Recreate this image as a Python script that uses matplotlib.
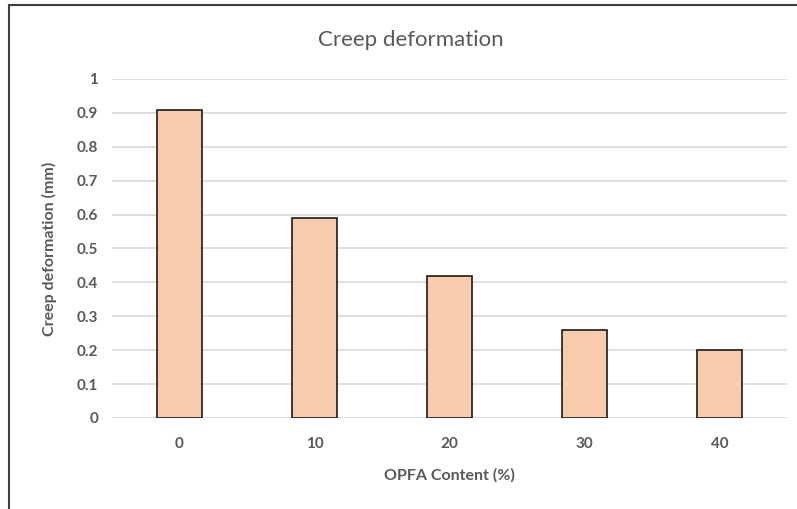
import matplotlib.pyplot as plt
from matplotlib.patches import Rectangle

# 資料
opfa = ['0', '10', '20', '30', '40']
creep = [0.91, 0.59, 0.42, 0.26, 0.20]
yticks = [0, 0.1, 0.2, 0.3, 0.4, 0.5, 0.6, 0.7, 0.8, 0.9, 1]
ylabels = ['0', '0.1', '0.2', '0.3', '0.4', '0.5', '0.6', '0.7', '0.8', '0.9', '1']

plt.rcParams['font.family'] = ['Lato', 'DejaVu Sans']
grey = '#595959'

fig = plt.figure(figsize=(7.97, 5.09), dpi=100)
ax = fig.add_axes([0.1405, 0.1788, 0.847, 0.666])

ax.bar(range(len(opfa)), creep, width=0.33, color='#F8CBAD',
       edgecolor='#1a1a1a', linewidth=1.2, zorder=3)

ax.set_xlim(-0.5, len(opfa) - 0.5)
ax.set_ylim(0, 1)
ax.set_yticks(yticks)
ax.set_yticklabels(ylabels)
ax.set_xticks(range(len(opfa)))
ax.set_xticklabels(opfa)
ax.yaxis.grid(True, color='#D9D9D9', linewidth=1.2, zorder=0)
ax.set_axisbelow(True)
for s in ax.spines.values():
    s.set_visible(False)
ax.tick_params(length=0, labelsize=11, labelcolor=grey, pad=10)
ax.tick_params(axis='x', pad=14)
for lab in ax.get_xticklabels() + ax.get_yticklabels():
    lab.set_fontweight('bold')

ax.set_xlabel('OPFA Content (%)', fontsize=11.5, fontweight='bold', color=grey, labelpad=12)
ax.set_ylabel('Creep deformation (mm)', fontsize=11.5, fontweight='bold', color=grey, labelpad=14)
fig.text(0.515, 0.922, 'Creep deformation', fontsize=16, color=grey, ha='center', va='center')

# 外框
fig.patches.append(Rectangle((9 / 797, -0.1), 1.2, 1 - 5 / 509 + 0.1, transform=fig.transFigure,
                             fill=False, edgecolor='#404040', linewidth=1.5))

fig.savefig('out.png', dpi=100)
